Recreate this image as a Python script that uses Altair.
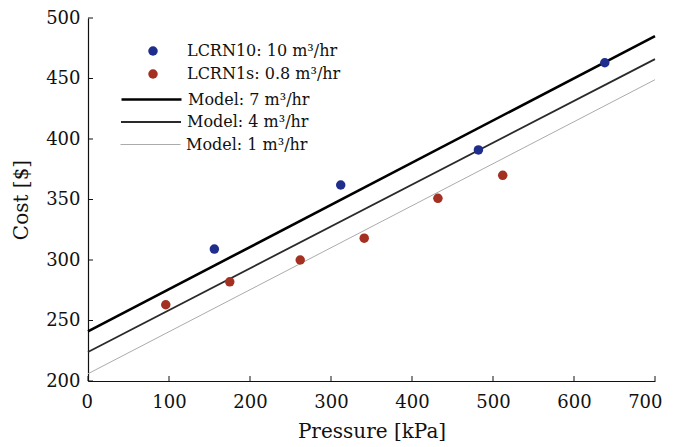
import altair as alt
import pandas as pd

point_names = ["LCRN10: 10 m³/hr", "LCRN1s: 0.8 m³/hr"]
point_colors = ["#1f2d8c", "#a33021"]
model_names = ["Model: 7 m³/hr", "Model: 4 m³/hr", "Model: 1 m³/hr"]
model_colors = ["#000000", "#2a2a2a", "#ababab"]
model_widths = [2.6, 1.8, 1.0]

blue_x = [156, 312, 482, 638]
blue_y = [309, 362, 391, 463]
red_x = [96, 175, 262, 341, 432, 512]
red_y = [263, 282, 300, 318, 351, 370]

model_x = [0, 700]
model7 = [241, 485]
model4 = [224, 466]
model1 = [206, 449]

x_ticks = [0, 100, 200, 300, 400, 500, 600, 700]
y_ticks = [200, 250, 300, 350, 400, 450, 500]

W, H = 567, 363
TOP = 10
FONT = "DejaVu Serif"

xscale = alt.Scale(domain=[0, 700], nice=False, zero=False)
yscale = alt.Scale(domain=[200, 500], nice=False, zero=False)
xenc = alt.X("p:Q", scale=xscale,
             axis=alt.Axis(title="Pressure [kPa]", values=x_ticks, grid=False,
                           labelFlush=True, labelFlushOffset=7,
                           ticks=False, labelPadding=12, titlePadding=10))
yenc = alt.Y("c:Q", scale=yscale,
             axis=alt.Axis(title="Cost [$]", values=y_ticks, grid=False, labelFlush=False,
                           ticks=False, labelPadding=8, titlePadding=14))

# legend rows (centres, px below plot top)
row_centres = [33, 56, 80, 103, 126]
LINE_X = 32


def legend_common(**kw):
    return alt.Legend(title=None, orient="none", padding=0, labelFont=FONT,
                      labelFontSize=16, labelColor="#111", labelLimit=400, **kw)


layers = []
model_ys = [model7, model4, model1]
for i, name in enumerate(model_names):
    df = pd.DataFrame({"p": model_x, "c": model_ys[i], "s": [name] * len(model_x)})
    layers.append(
        alt.Chart(df).mark_line(strokeWidth=model_widths[i]).encode(
            x=xenc, y=yenc,
            color=alt.Color("s:N", scale=alt.Scale(domain=[name], range=[model_colors[i]]),
                            legend=legend_common(legendX=LINE_X, legendY=row_centres[2 + i] - 30,
                                                 symbolType="stroke", symbolSize=3600,
                                                 symbolStrokeWidth=model_widths[i], labelOffset=5)),
        )
    )

point_sets = [(blue_x, blue_y), (red_x, red_y)]
for i, name in enumerate(point_names):
    px, py = point_sets[i]
    df = pd.DataFrame({"p": px, "c": py, "s": [name] * len(px)})
    layers.append(
        alt.Chart(df).mark_circle(size=90, opacity=1).encode(
            x=xenc, y=yenc,
            color=alt.Color("s:N", scale=alt.Scale(domain=[name], range=[point_colors[i]]),
                            legend=legend_common(legendX=LINE_X + 25, legendY=row_centres[i] - 8,
                                                 symbolType="circle", symbolSize=90,
                                                 symbolOpacity=1, labelOffset=26)),
        )
    )

xt = pd.DataFrame({"p": x_ticks})
yt = pd.DataFrame({"c": y_ticks})
layers.append(alt.Chart(xt).mark_rule(color="#111", strokeWidth=1).encode(
    x=alt.X("p:Q", scale=xscale), y=alt.value(H), y2=alt.value(H - 5)))
layers.append(alt.Chart(yt).mark_rule(color="#111", strokeWidth=1).encode(
    y=alt.Y("c:Q", scale=yscale), x=alt.value(0), x2=alt.value(5)))

chart = alt.layer(*layers).resolve_scale(color="independent").resolve_legend(
    color="independent"
).properties(
    width=W, height=H,
    autosize=alt.AutoSizeParams(type="none"),
    padding={"left": 80, "top": TOP, "right": 10, "bottom": 60},
).configure_view(stroke=None).configure_axis(
    domainColor="#111", domainWidth=1.2,
    labelFont=FONT, titleFont=FONT, labelFontSize=18, titleFontSize=20,
    labelColor="#111", titleColor="#111", titleFontWeight="normal",
)

chart.save("out.html", embed_options={"renderer": "svg", "actions": False})
